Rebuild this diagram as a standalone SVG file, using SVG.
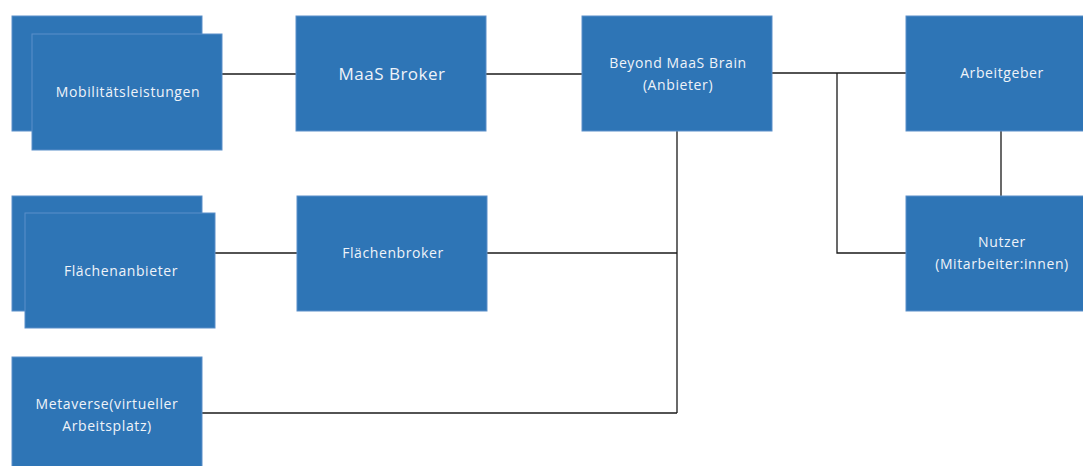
<svg xmlns="http://www.w3.org/2000/svg" width="1083" height="466" viewBox="0 0 1083 466">
  <style>
    .box { fill: #2e75b6; stroke: #5b8fc9; stroke-width: 1; }
    .lbl { fill: #eef3f9; font-family: "Open Sans", "Liberation Sans", sans-serif; font-size: 14px; letter-spacing: 0.6px; text-anchor: middle; }
    .big { font-size: 17px; letter-spacing: 0.5px; }
    .wire { fill: none; stroke: #1a1a1a; stroke-width: 1.3; }
  </style>
  <rect width="1083" height="466" fill="#ffffff"/>

  <g id="connectors">
    <line class="wire" x1="222" y1="74" x2="296" y2="74"/>
    <line class="wire" x1="486" y1="74" x2="582" y2="74"/>
    <line class="wire" x1="772" y1="73" x2="906" y2="73"/>
    <polyline class="wire" points="837,73 837,253 906,253"/>
    <line class="wire" x1="1001" y1="131" x2="1001" y2="196"/>
    <line class="wire" x1="677" y1="131" x2="677" y2="413"/>
    <line class="wire" x1="215" y1="253" x2="297" y2="253"/>
    <line class="wire" x1="487" y1="253" x2="677" y2="253"/>
    <line class="wire" x1="202" y1="413" x2="677" y2="413"/>
  </g>

  <g id="mobilitaetsleistungen">
    <rect class="box" x="12" y="16" width="190" height="115"/>
    <rect class="box" x="32" y="34" width="190" height="116"/>
    <text class="lbl" x="128" y="97">Mobilitätsleistungen</text>
  </g>

  <g id="flaechenanbieter">
    <rect class="box" x="12" y="196" width="190" height="115"/>
    <rect class="box" x="25" y="213" width="190" height="115"/>
    <text class="lbl" x="121" y="276">Flächenanbieter</text>
  </g>

  <g id="metaverse">
    <rect class="box" x="12" y="357" width="190" height="115"/>
    <text class="lbl" x="107" y="409">Metaverse(virtueller</text>
    <text class="lbl" x="107" y="431">Arbeitsplatz)</text>
  </g>

  <g id="maas-broker">
    <rect class="box" x="296" y="16" width="190" height="115"/>
    <text class="lbl big" x="392" y="80">MaaS Broker</text>
  </g>

  <g id="flaechenbroker">
    <rect class="box" x="297" y="196" width="190" height="115"/>
    <text class="lbl" x="393" y="258">Flächenbroker</text>
  </g>

  <g id="beyond-maas-brain">
    <rect class="box" x="582" y="16" width="190" height="115"/>
    <text class="lbl" x="678" y="68">Beyond MaaS Brain</text>
    <text class="lbl" x="678" y="90">(Anbieter)</text>
  </g>

  <g id="arbeitgeber">
    <rect class="box" x="906" y="16" width="190" height="115"/>
    <text class="lbl" x="1002" y="78">Arbeitgeber</text>
  </g>

  <g id="nutzer">
    <rect class="box" x="906" y="196" width="190" height="115"/>
    <text class="lbl" x="1002" y="247">Nutzer</text>
    <text class="lbl" x="1002" y="269">(Mitarbeiter:innen)</text>
  </g>
</svg>
